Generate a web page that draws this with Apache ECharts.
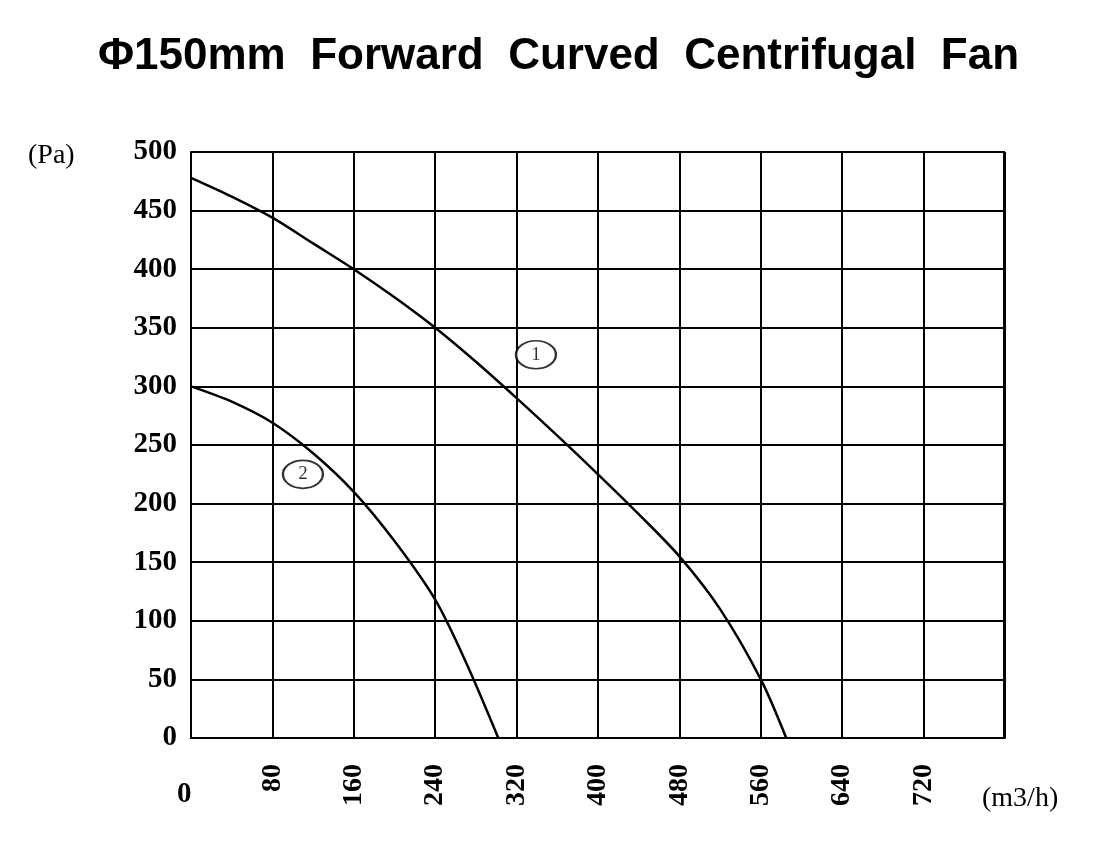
<!DOCTYPE html>
<html><head><meta charset="utf-8">
<script src="https://cdn.jsdelivr.net/npm/echarts@6/dist/echarts.min.js"></script>
<style>html,body{margin:0;padding:0;background:#fff}#c{width:1117px;height:860px}</style>
</head><body><div id="c"></div>
<script>
const curve1 = [[0,478],[40,462],[80,444],[120,422],[160,400],[200,376],[240,350],[280,321],[320,290],[360,258],[400,225],[440,191],[480,155],[520,110],[560,50],[585,0]];
const curve2 = [[0,300],[40,287],[80,269],[120,243],[160,210],[200,168],[240,118],[270,65],[302,0]];
const xTicks = [0,80,160,240,320,400,480,560,640,720];
const yTicks = [0,50,100,150,200,250,300,350,400,450,500];
const labels = [{name:'1', pos:[339,327]},{name:'2', pos:[110,225]}];
const serif = '"Liberation Serif", "DejaVu Serif", serif';
const chart = echarts.init(document.getElementById('c'));
const lineStyle = {color:'#000', width:2.5};
chart.setOption({
  animation:false,
  title:{text:'Φ150mm  Forward  Curved  Centrifugal  Fan', left:'center', top:30,
    textStyle:{fontFamily:'"Liberation Sans", Arial, sans-serif', fontWeight:'bold', fontSize:44, color:'#000'}},
  grid:{left:191, top:152, right:112, bottom:122},
  xAxis:{type:'value', min:0, max:800, interval:80,
    axisLine:{lineStyle:{color:'#000', width:2}}, axisTick:{show:false},
    splitLine:{lineStyle:{color:'#000', width:2}},
    axisLabel:{rotate:90, margin:26, fontFamily:serif, fontWeight:'bold', fontSize:28, color:'#000',
      formatter:v=> (v===0||v===800)?'':String(v)}},
  yAxis:{type:'value', min:0, max:500, interval:50,
    axisLine:{lineStyle:{color:'#000', width:2}}, axisTick:{show:false},
    splitLine:{lineStyle:{color:'#000', width:2}},
    axisLabel:{margin:14, fontFamily:serif, fontWeight:'bold', fontSize:29, color:'#000'}},
  graphic:[
    {type:'text', left:177, top:780, style:{text:'0', font:'bold 29px '+serif, fill:'#000'}},
    {type:'text', left:28, top:142, style:{text:'(Pa)', font:'28px '+serif, fill:'#000'}},
    {type:'text', left:982, top:785, style:{text:'(m3/h)', font:'28px '+serif, fill:'#000'}},
    {type:'rect', shape:{x:1004,y:152,width:0,height:586}, style:{stroke:'#000',lineWidth:2}}
  ],
  series:[
    {type:'line', data:curve1, smooth:0.3, symbol:'none', lineStyle},
    {type:'line', data:curve2, smooth:0.3, symbol:'none', lineStyle},
    {type:'scatter', data:labels.map(l=>({name:l.name, value:l.pos})), symbol:'circle', symbolSize:[40,28],
      itemStyle:{color:'#fff', borderColor:'#000', borderWidth:2},
      label:{show:true, position:'inside', formatter:p=>p.name, fontFamily:serif, fontSize:19, color:'#000'}}
  ]
});
</script></body></html>
